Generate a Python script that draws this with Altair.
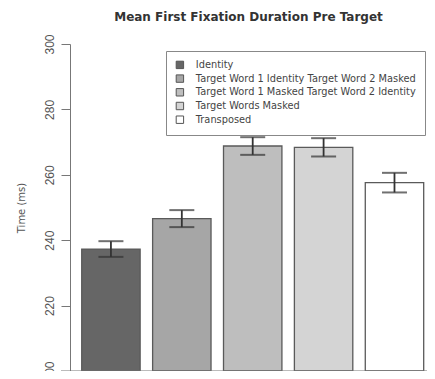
import altair as alt
import pandas as pd

conditions = [
    "Identity",
    "Target Word 1 Identity Target Word 2 Masked",
    "Target Word 1 Masked Target Word 2 Identity",
    "Target Words Masked",
    "Transposed",
]
means = [237.3, 246.6, 268.8, 268.4, 257.6]
errors = [2.4, 2.6, 2.7, 2.8, 3.0]
colors = ["#666666", "#a6a6a6", "#bebebe", "#d4d4d4", "#ffffff"]
y_ticks = [200, 220, 240, 260, 280, 300]

df = pd.DataFrame({
    "cond": conditions,
    "mean": means,
    "lo": [m - e for m, e in zip(means, errors)],
    "hi": [m + e for m, e in zip(means, errors)],
})

FONT = "Liberation Sans"
WIDE = "DejaVu Sans"
W, H = 357, 327

x = alt.X("cond:N", sort=conditions, axis=None,
          scale=alt.Scale(paddingInner=0.176, paddingOuter=0.106, align=0.78))
yscale = alt.Scale(domain=[200, 300], zero=False, nice=False)

base = alt.Chart(df)

bars = base.mark_bar(stroke="#5a5a5a", strokeWidth=1.3).encode(
    x=x,
    y=alt.Y("mean:Q", scale=yscale, title="Time (ms)",
            axis=alt.Axis(values=y_ticks, labelAngle=270, tickSize=9,
                          labelAlign="center", labelBaseline="bottom",
                          labelPadding=5, grid=False,
                          domainColor="#777777", tickColor="#777777",
                          labelColor="#555555", titleColor="#555555",
                          labelFontSize=12, titleFontSize=10,
                          titleFontWeight="normal", labelFont=FONT,
                          titleFont=WIDE, titlePadding=17)),
    y2=alt.datum(200),
    fill=alt.Fill("cond:N", sort=conditions,
                  scale=alt.Scale(domain=conditions, range=colors),
                  legend=alt.Legend(title=None, orient="none",
                                    legendX=96, legendY=7,
                                    strokeColor="#888888", padding=9,
                                    symbolType="square", symbolSize=55,
                                    symbolStrokeColor="#555555",
                                    symbolStrokeWidth=1,
                                    labelFontSize=9.8, labelFont=WIDE,
                                    labelColor="#444444", labelLimit=400,
                                    rowPadding=1.7, labelOffset=11,
                                    fillColor="white")),
)

rule = base.mark_rule(color="#333333", strokeWidth=1.8).encode(
    x=x, y=alt.Y("lo:Q", scale=yscale), y2="hi:Q")
cap_lo = base.mark_tick(color="#333333", size=25, thickness=2,
                        orient="horizontal").encode(
    x=x, y=alt.Y("lo:Q", scale=yscale))
cap_hi = base.mark_tick(color="#333333", size=25, thickness=2,
                        orient="horizontal").encode(
    x=x, y=alt.Y("hi:Q", scale=yscale))

baseline = alt.Chart(pd.DataFrame({"v": [200]})).mark_rule(
    color="#777777", strokeWidth=1).encode(
    y=alt.Y("v:Q", scale=yscale), x=alt.value(-9), x2=alt.value(W))

chart = alt.layer(bars, rule, cap_lo, cap_hi, baseline).properties(
    width=W, height=H,
    title=alt.TitleParams("Mean First Fixation Duration Pre Target",
                          fontSize=12, font=WIDE, fontWeight="bold",
                          color="#333333", offset=10),
    autosize=alt.AutoSizeParams(type="none"),
    padding={"left": 62, "top": 36, "right": 0, "bottom": 0},
).configure_view(stroke=None)

chart.save("out.html", embed_options={"renderer": "svg", "actions": False})
